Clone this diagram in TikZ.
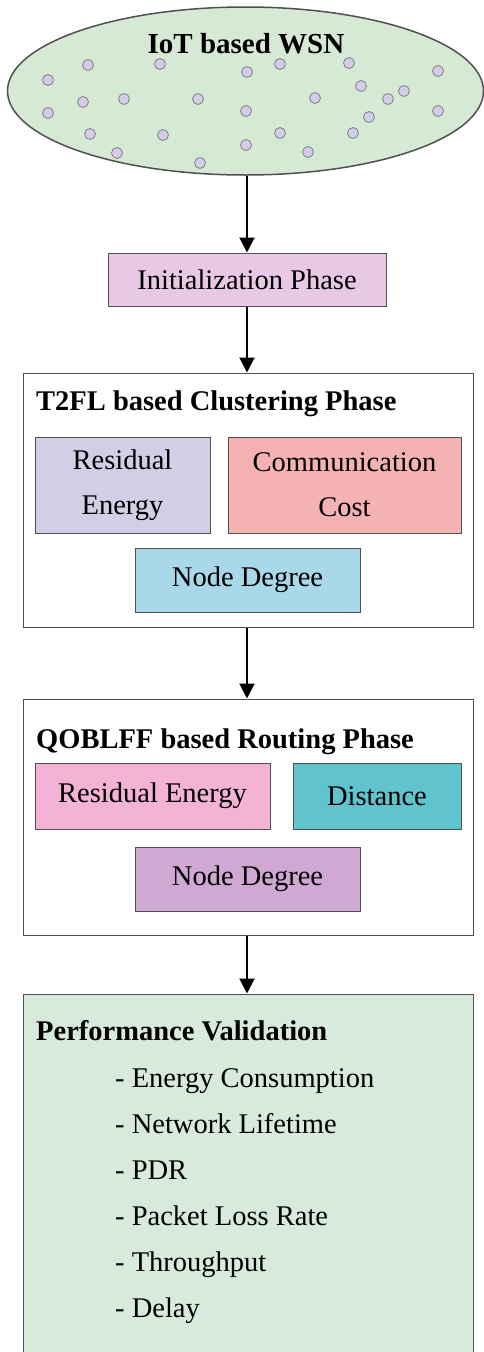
\documentclass[tikz,border=0pt]{standalone}
\usepackage{fontspec}
\setmainfont{Liberation Serif}
\usetikzlibrary{shapes.geometric,arrows.meta}
\definecolor{wsngreen}{RGB}{214,233,213}
\definecolor{dotfill}{RGB}{212,204,232}
\definecolor{initfill}{RGB}{232,200,228}
\definecolor{lavfill}{RGB}{211,205,230}
\definecolor{redfill}{RGB}{244,178,178}
\definecolor{bluefill}{RGB}{168,216,234}
\definecolor{pinkfill}{RGB}{244,178,212}
\definecolor{tealfill}{RGB}{96,196,206}
\definecolor{purpfill}{RGB}{208,168,212}
\definecolor{perffill}{RGB}{216,234,219}
\definecolor{edgegray}{RGB}{80,80,80}
\begin{document}
\begin{tikzpicture}[x=1pt,y=-1pt,
  box/.style={draw=edgegray, line width=1pt, inner sep=0pt, align=center,
    font=\fontsize{28.5}{45}\selectfont},
  heading/.style={anchor=west, inner sep=0pt, text height=20pt, text depth=6pt,
    font=\fontsize{28.5}{34}\selectfont\bfseries},
  item/.style={anchor=west, inner sep=0pt, text height=20pt, text depth=6pt,
    font=\fontsize{28.5}{34}\selectfont},
  sensor/.style={circle, draw=gray, fill=dotfill, line width=0.8pt, minimum size=11pt, inner sep=0pt},
  arr/.style={line width=2pt, -{Triangle[width=15pt,length=15pt]}}]
\useasboundingbox (0,0) rectangle (484,1352);

% sensor field
\node[ellipse, draw=edgegray, fill=wsngreen, line width=1.5pt,
  minimum width=476pt, minimum height=168pt, inner sep=0pt] (wsn) at (245.5,91) {};
\node[inner sep=0pt, font=\fontsize{29}{34}\selectfont\bfseries] (wsntitle) at (246,44) {IoT based WSN};
\foreach \px/\py [count=\i] in {
  88/65, 160/64, 247/72, 280/64, 349/63, 438/71,
  48/80, 361/86, 404/91,
  83/102, 124/99, 198/99, 315/98, 388/99,
  48/113, 246/111, 369/117, 438/111,
  90/134, 163/135, 280/133, 353/133,
  246/145, 117/153, 308/152, 200/163}
  \node[sensor] (s\i) at (\px,\py) {};

% initialization
\node[box, fill=initfill, minimum width=278pt, minimum height=53pt] (init) at (247,279.5) {Initialization Phase};

% clustering phase
\node[box, fill=white, minimum width=450pt, minimum height=254pt] (clus) at (248,500) {};
\node[heading] (clustitle) at (36,403) {T2FL based Clustering Phase};
\node[box, fill=lavfill, minimum width=175pt, minimum height=96pt] (cre) at (122.5,485) {Residual\\Energy};
\node[box, fill=redfill, minimum width=233pt, minimum height=96pt] (ccc) at (344.5,485) {Communication\\Cost};
\node[box, fill=bluefill, minimum width=225pt, minimum height=64pt] (cnd) at (247.5,580) {Node Degree};

% routing phase
\node[box, fill=white, minimum width=450pt, minimum height=236pt] (rout) at (248,817) {};
\node[heading] (routtitle) at (36,741) {QOBLFF based Routing Phase};
\node[box, fill=pinkfill, minimum width=235pt, minimum height=66pt] (rre) at (152.5,796) {Residual Energy};
\node[box, fill=tealfill, minimum width=168pt, minimum height=66pt] (rdi) at (377,796) {Distance};
\node[box, fill=purpfill, minimum width=225pt, minimum height=64pt] (rnd) at (247.5,879) {Node Degree};

% performance validation
\node[box, fill=perffill, minimum width=450pt, minimum height=360pt] (perf) at (248,1174) {};
\node[heading] (perftitle) at (36,1033) {Performance Validation};
\node[item] (p1) at (115,1080) {- Energy Consumption};
\node[item] (p2) at (115,1126) {- Network Lifetime};
\node[item] (p3) at (115,1172) {- PDR};
\node[item] (p4) at (115,1218) {- Packet Loss Rate};
\node[item] (p5) at (115,1264) {- Throughput};
\node[item] (p6) at (115,1310) {- Delay};

% flow
\draw[arr] (init.north |- wsn.south) -- (init.north);
\draw[arr] (init.south) -- (init.south |- clus.north);
\draw[arr] (init.south |- clus.south) -- (init.south |- rout.north);
\draw[arr] (init.south |- rout.south) -- (init.south |- perf.north);
\end{tikzpicture}
\end{document}
